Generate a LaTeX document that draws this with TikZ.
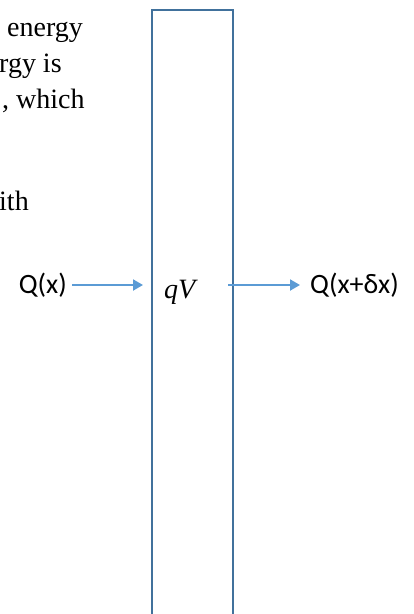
\documentclass[tikz,border=0pt]{standalone}
\usepackage{fontspec}
\setmainfont{Liberation Serif}
\newfontfamily\calib{Carlito}
\usepackage{xcolor}
\usepackage{tikz}
\usetikzlibrary{arrows.meta, positioning}
\definecolor{slabline}{RGB}{65, 113, 156}
\definecolor{flowblue}{RGB}{91, 155, 213}

\begin{document}
\begin{tikzpicture}[
  x=1pt, y=1pt,
  slab/.style={rectangle, draw=slabline, line width=2.5pt, inner sep=0pt, outer sep=0pt,
               minimum width=81pt, minimum height=640pt, anchor=north west},
  flow/.style={-{Triangle[length=10pt, width=11pt]}, line width=2pt, color=flowblue},
  qlabel/.style={font=\calib\fontsize{28}{32}\selectfont, inner sep=0pt},
  body/.style={font=\fontsize{28}{34}\selectfont, inner sep=0pt, anchor=base west}
]
\clip (0,0) rectangle (413,-614);

% text cut off at the left edge
\node[body] (line1) at (7,-36)   {energy};
\node[body] (line2) at (-1,-72)  {rgy is};
\node[body] (line3) at (2,-108)  {, which};
\node[body] (line4) at (-1,-210) {ith};

% the slab and its contents
\node[slab] (slab) at (152,-10) {};
\node[body, font=\itshape\fontsize{28}{34}\selectfont] (qv) at (164,-298) {qV};

\node[qlabel, anchor=east] (qin)  at (67,-285)  {Q(x)};
\node[qlabel, anchor=west] (qout) at (310,-285) {Q(x+δx)};

\draw[flow, shorten <=5pt, shorten >=9pt] (qin.east) -- (slab.west |- qin.east);
\draw[flow, shorten <=-5pt, shorten >=10pt] (slab.east |- qout.west) -- (qout.west);

\end{tikzpicture}
\end{document}
